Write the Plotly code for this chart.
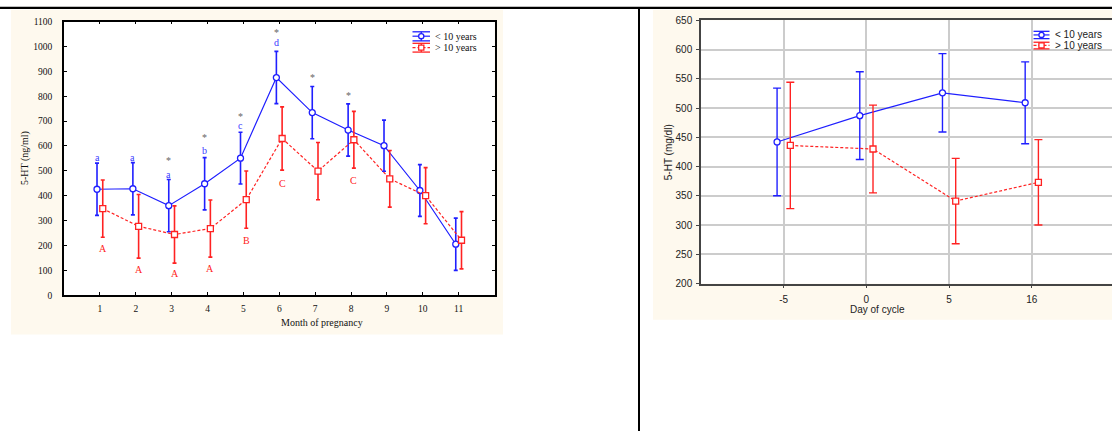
import plotly.graph_objects as go

W, H = 1112, 437

# ---------------- data: left chart ----------------
months = [1, 2, 3, 4, 5, 6, 7, 8, 9, 10, 11]
young_mean = [426, 428, 360, 448, 551, 875, 734, 664, 601, 421, 205]
young_err = [105, 105, 105, 105, 104, 105, 105, 105, 103, 104, 105]
old_mean = [348, 277, 244, 268, 384, 630, 499, 625, 468, 400, 221]
old_err = [115, 128, 115, 115, 115, 127, 115, 114, 114, 113, 115]

young_letter_months = [1, 2, 3, 4, 5, 6]
young_letters = ["a", "a", "a", "b", "c", "d"]
young_letter_y = [555, 555, 487, 583, 683, 1014]
star_months = [3, 4, 5, 6, 7, 8]
star_y = [543, 635, 718, 1055, 877, 801]
old_letter_months = [1, 2, 3, 4, 5, 6, 8]
old_letters = ["A", "A", "A", "A", "B", "C", "C"]
old_letter_y = [186, 102, 86, 106, 220, 451, 462]

# ---------------- data: right chart ----------------
days = ["-5", "0", "5", "16"]
young2_mean = [442, 487, 526, 509]
young2_err = [92, 75, 67, 70]
old2_mean = [436, 430, 341, 373]
old2_err = [108, 75, 73, 73]

series_names = ["< 10 years", "> 10 years"]

BLUE = "#1f1fff"
RED = "#ff2222"
CREAM = "#fef9ee"
SERIF = "Liberation Serif"
SANS = "Liberation Sans"


def px_x(p):
    return p / W


def px_y(p):
    return 1 - p / H


fig = go.Figure()

off = 0.08
pos2 = [1, 2, 3, 4]

# left chart traces
fig.add_trace(go.Scatter(
    x=[m - off for m in months], y=young_mean, name=series_names[0],
    mode="lines+markers", line=dict(color=BLUE, width=1.2),
    marker=dict(symbol="circle", size=6, color="white", line=dict(color=BLUE, width=1.3)),
    error_y=dict(type="data", array=young_err, visible=True, color=BLUE, thickness=1.6, width=2),
    xaxis="x", yaxis="y", showlegend=False))
fig.add_trace(go.Scatter(
    x=[m + off for m in months], y=old_mean, name=series_names[1],
    mode="lines+markers", line=dict(color=RED, width=1.2, dash="3px,2px"),
    marker=dict(symbol="square", size=6, color="white", line=dict(color=RED, width=1.3)),
    error_y=dict(type="data", array=old_err, visible=True, color=RED, thickness=1.6, width=2),
    xaxis="x", yaxis="y", showlegend=False))

# right chart traces
fig.add_trace(go.Scatter(
    x=[p - off for p in pos2], y=young2_mean, name=series_names[0],
    mode="lines+markers", line=dict(color=BLUE, width=1.2),
    marker=dict(symbol="circle", size=6, color="white", line=dict(color=BLUE, width=1.3)),
    error_y=dict(type="data", array=young2_err, visible=True, color=BLUE, thickness=1.4, width=4),
    xaxis="x2", yaxis="y2", showlegend=False))
fig.add_trace(go.Scatter(
    x=[p + off for p in pos2], y=old2_mean, name=series_names[1],
    mode="lines+markers", line=dict(color=RED, width=1.2, dash="3px,2px"),
    marker=dict(symbol="square", size=6, color="white", line=dict(color=RED, width=1.3)),
    error_y=dict(type="data", array=old2_err, visible=True, color=RED, thickness=1.4, width=4),
    xaxis="x2", yaxis="y2", showlegend=False))

annotations = []
for m, t, y in zip(young_letter_months, young_letters, young_letter_y):
    annotations.append(dict(x=m - off, y=y, xref="x", yref="y", text=t, showarrow=False,
                            font=dict(family=SERIF, size=10, color="#3a3aff"), yanchor="middle"))
for m, y in zip(star_months, star_y):
    annotations.append(dict(x=m - off, y=y, xref="x", yref="y", text="*", showarrow=False,
                            font=dict(family=SERIF, size=10, color="#666666"), yanchor="middle"))
for m, t, y in zip(old_letter_months, old_letters, old_letter_y):
    annotations.append(dict(x=m + off, y=y, xref="x", yref="y", text=t, showarrow=False,
                            font=dict(family=SERIF, size=10, color=RED), yanchor="middle"))

# axis titles
annotations += [
    dict(x=px_x(279), y=px_y(326), xref="paper", yref="paper", text="Month of pregnancy",
         showarrow=False, font=dict(family=SERIF, size=10, color="#111"), yanchor="middle"),
    dict(x=px_x(25), y=px_y(157), xref="paper", yref="paper", text="5-HT (ng/ml)",
         textangle=-90, showarrow=False, font=dict(family=SERIF, size=10, color="#111"),
         xanchor="center", yanchor="middle"),
    dict(x=px_x(907), y=px_y(312), xref="paper", yref="paper", text="Day of cycle",
         showarrow=False, font=dict(family=SANS, size=10, color="#222"), yanchor="middle"),
    dict(x=px_x(668), y=px_y(151), xref="paper", yref="paper", text="5-HT (mg/dl)",
         textangle=-90, showarrow=False, font=dict(family=SANS, size=10, color="#222"),
         xanchor="center", yanchor="middle"),
]

shapes = [
    # cream panels
    dict(type="rect", xref="paper", yref="paper", x0=px_x(11), x1=px_x(503), y0=px_y(338), y1=px_y(5),
         fillcolor=CREAM, line=dict(width=0), layer="below"),
    dict(type="rect", xref="paper", yref="paper", x0=px_x(653), x1=1, y0=px_y(323), y1=px_y(5),
         fillcolor=CREAM, line=dict(width=0), layer="below"),
    # white plot areas
    dict(type="rect", xref="x domain", yref="y domain", x0=0, x1=1, y0=0, y1=1,
         fillcolor="white", line=dict(width=0), layer="below"),
    dict(type="rect", xref="x2 domain", yref="y2 domain", x0=0, x1=1, y0=0, y1=1,
         fillcolor="white", line=dict(width=0), layer="below"),
    # page rules
    dict(type="line", xref="paper", yref="paper", x0=0, x1=1, y0=px_y(3), y1=px_y(3),
         line=dict(color="black", width=2.4)),
    dict(type="line", xref="paper", yref="paper", x0=px_x(639), x1=px_x(639), y0=0, y1=px_y(3),
         line=dict(color="black", width=2)),
]


def legend_entry(x0, x1, ymid, ytop, ybot, color, dash, symbol, text_x, text, family, fsize, tcolor):
    xm = (x0 + x1) / 2
    out = [
        dict(type="line", xref="paper", yref="paper", x0=px_x(x0), x1=px_x(x1),
             y0=px_y(ytop), y1=px_y(ytop), line=dict(color=color, width=1.3)),
        dict(type="line", xref="paper", yref="paper", x0=px_x(x0), x1=px_x(x1),
             y0=px_y(ybot), y1=px_y(ybot), line=dict(color=color, width=1.3)),
        dict(type="line", xref="paper", yref="paper", x0=px_x(xm), x1=px_x(xm),
             y0=px_y(ytop), y1=px_y(ybot), line=dict(color=color, width=1.3)),
        dict(type="line", xref="paper", yref="paper", x0=px_x(x0), x1=px_x(x1),
             y0=px_y(ymid), y1=px_y(ymid), line=dict(color=color, width=1.2, dash=dash)),
        dict(type=symbol, xref="paper", yref="paper", x0=px_x(xm - 2.6), x1=px_x(xm + 2.6),
             y0=px_y(ymid + 2.6), y1=px_y(ymid - 2.6), fillcolor="white",
             line=dict(color=color, width=1.3)),
    ]
    ann = dict(x=px_x(text_x), y=px_y(ymid), xref="paper", yref="paper", text=text,
               showarrow=False, xanchor="left", yanchor="middle",
               font=dict(family=family, size=fsize, color=tcolor))
    return out, ann


for args in [
    (412.5, 430, 32, 27.5, 36.8, BLUE, "solid", "circle", 433, series_names[0], SERIF, 10, "#111"),
    (412.5, 430, 43.7, 39.3, 48.3, RED, "3px,2px", "rect", 433, series_names[1], SERIF, 10, "#111"),
    (1033.5, 1049.5, 30.7, 27, 34.5, BLUE, "solid", "circle", 1053, series_names[0], SANS, 10, "#222"),
    (1033.5, 1049.5, 41.5, 38.2, 45, RED, "3px,2px", "rect", 1053, series_names[1], SANS, 10, "#222"),
]:
    s, a = legend_entry(*args)
    shapes += s
    annotations.append(a)

fig.update_layout(
    width=W, height=H, margin=dict(l=0, r=0, t=0, b=0),
    paper_bgcolor="white", plot_bgcolor="white",
    showlegend=False,
    xaxis=dict(domain=[px_x(64), px_x(494.5)], range=[0, 12], tickvals=months,
               ticks="inside", ticklen=3, tickcolor="black", showline=True, mirror="ticks",
               linecolor="black", linewidth=1.5, showgrid=False, zeroline=False,
               tickfont=dict(family=SERIF, size=9.5, color="#111"), ticklabelstandoff=4, anchor="y"),
    yaxis=dict(domain=[px_y(297.7), px_y(17)], range=[0, 1100], dtick=100,
               ticks="inside", ticklen=3, tickcolor="black", showline=True, mirror="ticks",
               linecolor="black", linewidth=1.5, showgrid=False, zeroline=False,
               tickfont=dict(family=SERIF, size=9.5, color="#111"), ticklabelstandoff=8, anchor="x"),
    xaxis2=dict(domain=[px_x(701), 1], range=[0, 4.97], tickvals=pos2, ticktext=days,
                ticks="outside", ticklen=3, tickcolor="#444", showline=True, mirror=True,
                linecolor="#444", linewidth=1.5, showgrid=True, gridcolor="#cccccc", gridwidth=1.5,
                zeroline=False, tickfont=dict(family=SANS, size=10, color="#222"),
                ticklabelstandoff=3, anchor="y2"),
    yaxis2=dict(domain=[px_y(285.7), px_y(15.7)], range=[200, 650], dtick=50,
                ticks="outside", ticklen=3, tickcolor="#444", showline=True, mirror=False,
                linecolor="#444", linewidth=1.5, showgrid=True, gridcolor="#cccccc", gridwidth=1.5,
                zeroline=False, tickfont=dict(family=SANS, size=10, color="#222"),
                ticklabelstandoff=2, anchor="x2"),
    annotations=annotations,
    shapes=shapes,
)

fig.write_html("out.html")
